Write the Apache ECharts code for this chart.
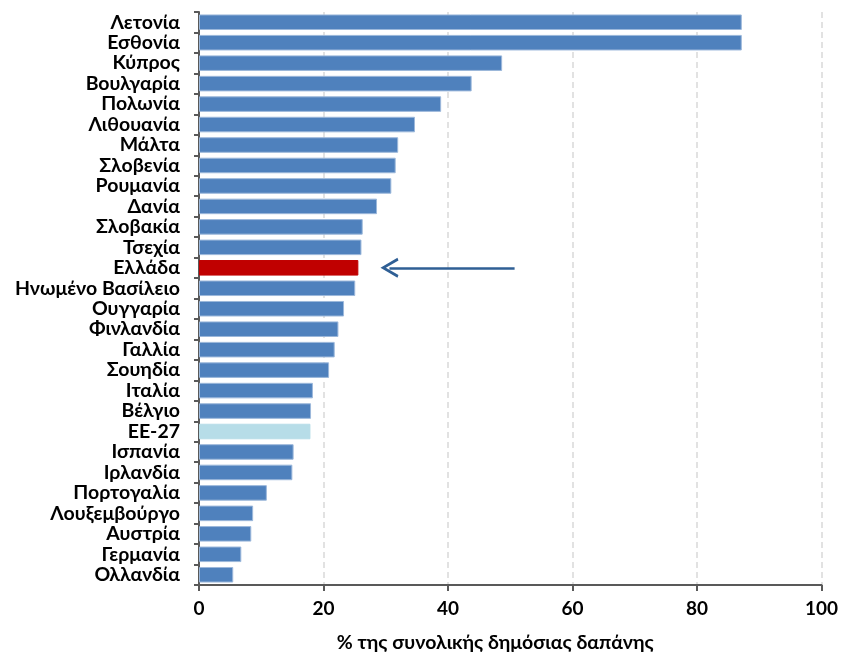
<!DOCTYPE html>
<html>
<head>
<meta charset="utf-8">
<script src="https://cdn.jsdelivr.net/npm/echarts@6/dist/echarts.min.js"></script>
<style>
html,body{margin:0;padding:0;background:#fff;}
#chart{width:841px;height:658px;}
</style>
</head>
<body>
<div id="chart"></div>
<script>
const categories = ["Λετονία","Εσθονία","Κύπρος","Βουλγαρία","Πολωνία","Λιθουανία","Μάλτα","Σλοβενία","Ρουμανία","Δανία","Σλοβακία","Τσεχία","Ελλάδα","Ηνωμένο Βασίλειο","Ουγγαρία","Φινλανδία","Γαλλία","Σουηδία","Ιταλία","Βέλγιο","ΕΕ-27","Ισπανία","Ιρλανδία","Πορτογαλία","Λουξεμβούργο","Αυστρία","Γερμανία","Ολλανδία"];
const values = [87.2,87.2,48.7,43.8,38.9,34.7,32.0,31.6,30.9,28.6,26.3,26.1,25.6,25.1,23.3,22.4,21.8,20.9,18.3,18.0,17.9,15.2,15.0,10.9,8.7,8.4,6.8,5.5];
const xTicks = {min:0, max:100, interval:20};
const xName = "% της συνολικής δημόσιας δαπάνης";
const highlight = "Ελλάδα";
const average = "ΕΕ-27";
const arrowFrom = 50.7, arrowTo = 30.6;

const font = "Lato, 'Open Sans', sans-serif";
const data = categories.map((c,i)=>{
  let color = '#4F81BD', border = '#9CB8DB';
  if (c === highlight) { color = '#C00000'; border = '#C00000'; }
  if (c === average) { color = '#B7DDE8'; border = '#B7DDE8'; }
  return {value: values[i], itemStyle:{color:color, borderColor:border, borderWidth:1}};
});

const chart = echarts.init(document.getElementById('chart'));
chart.setOption({
  animation:false,
  grid:{left:199, right:19, top:12, bottom:73, containLabel:false},
  xAxis:{
    type:'value', min:xTicks.min, max:xTicks.max, interval:xTicks.interval,
    name:xName, nameLocation:'middle', nameGap:48,
    nameTextStyle:{fontFamily:font, fontWeight:'bold', fontSize:19.5, color:'#000', padding:[0,30,0,0]},
    axisLine:{show:true, lineStyle:{color:'#595959', width:2}},
    axisTick:{show:true, length:6, lineStyle:{color:'#595959', width:2}},
    axisLabel:{fontFamily:font, fontWeight:'bold', fontSize:19, color:'#000', margin:14},
    splitLine:{show:true, lineStyle:{color:'#D9D9D9', type:[6,4], width:1.5}}
  },
  yAxis:{
    type:'category', data:categories, inverse:true,
    axisLine:{show:true, lineStyle:{color:'#595959', width:2}},
    axisTick:{show:true, length:5, lineStyle:{color:'#595959', width:2}},
    axisLabel:{interval:0, fontFamily:font, fontWeight:'bold', fontSize:19.5, color:'#000', margin:19},
    splitLine:{show:false}
  },
  series:[{
    type:'bar', data:data, barCategoryGap:'24%',
    markLine:{
      silent:true, animation:false,
      symbol:['none','path://M0,10 L5,0 L10,10 L8.6,10.6 L5,3.2 L1.4,10.6 Z'],
      symbolSize:[20,18],
      label:{show:false},
      lineStyle:{color:'#2F5F95', width:2.5, type:'solid'},
      data:[[{coord:[arrowFrom, highlight]},{coord:[arrowTo, highlight]}]]
    }
  }]
});
</script>
</body>
</html>
